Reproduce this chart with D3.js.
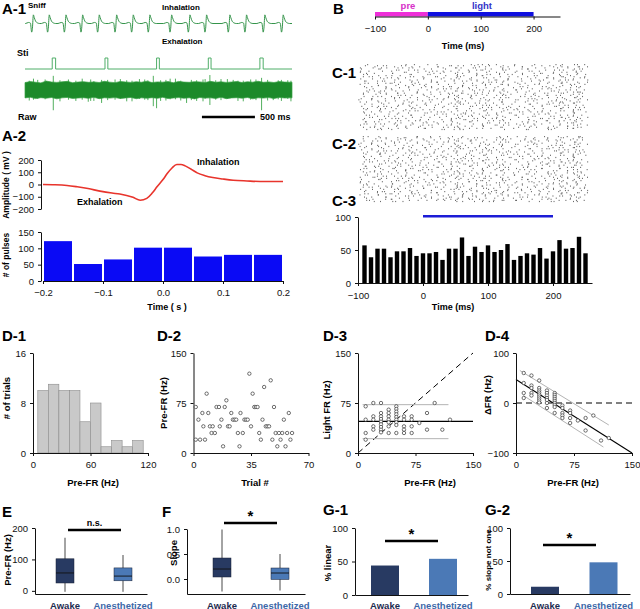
<!DOCTYPE html>
<html>
<head>
<meta charset="utf-8">
<script src="https://cdn.jsdelivr.net/npm/d3@7"></script>
<style>
  body { margin: 0; background: #fff; }
  svg text { font-family: "Liberation Sans", Arial, Helvetica, sans-serif; }
  .ax text { font-family: "Liberation Sans", Arial, sans-serif; font-size: 9.5px; fill: #111; }
  .ax path, .ax line { stroke: #111; }
  .plab { font-size: 15px; font-weight: bold; }
  .ttl { font-size: 9.5px; font-weight: bold; }
</style>
</head>
<body>
<svg id="fig" width="640" height="609"></svg>
<script>
// ---------- A-1 : sniff / stimulus / raw ----------
const sniffPeakMs = [79, 229, 387, 544, 701, 865, 1022, 1179, 1384, 1557, 1714, 1934, 2091, 2264, 2437];
const sniffShapeMs = [-75, -45, -28, -16, -9, 0, 8, 20, 40, 60];
const sniffShapeAmp = [0, 0.12, 0.05, -1, -0.55, 1, 0.7, 0.3, 0.06, 0];
const stiPulses = [[257, 289], [755, 782], [1242, 1268], [1730, 1756], [2217, 2248]];
// raw band envelope, one value per 50 ms (uV)
const rawHi = [92,104,96,88,110,99,94,101,107,90,98,103,95,100,93,108,97,91,105,99,94,102,96,109,92,100,97,104,90,106,98,95,103,100,93,107,96,101,94,99,105,92,102,97,108,95,100,93,104,98,96];
const rawLo = [-98,-90,-106,-95,-101,-93,-109,-97,-92,-104,-99,-95,-103,-91,-107,-96,-100,-94,-105,-98,-92,-108,-97,-101,-95,-103,-90,-106,-99,-94,-102,-96,-110,-93,-100,-97,-104,-91,-107,-98,-95,-101,-93,-109,-96,-100,-94,-105,-92,-99,-97];
const rawSpikeMs   = [120, 267, 410, 480, 597, 723, 850, 960, 1080, 1211, 1242, 1330, 1420, 1525, 1620, 1745, 1850, 1965, 2060, 2130, 2233, 2343, 2420, 2480,
                      40, 190, 330, 540, 650, 780, 900, 1010, 1130, 1280, 1370, 1470, 1570, 1680, 1800, 1910, 2010, 2180, 2290, 2390, 2510, 80, 620, 1160, 1700];
const rawSpikeUp   = [125, 175, 130, 115, 60, 125, 130, 120, 135, 175, 90, 125, 140, 70, 120, 185, 135, 125, 115, 130, 150, 60, 125, 120,
                      115, 130, 120, 140, 110, 125, 135, 115, 130, 120, 140, 115, 125, 130, 120, 135, 115, 130, 125, 120, 115, 140, 130, 120, 135];
const rawSpikeDown = [110, 250, 120, 135, 145, 160, 120, 140, 110, 200, 225, 130, 115, 160, 135, 185, 125, 80, 140, 120, 250, 125, 135, 110,
                      130, 115, 140, 120, 135, 125, 110, 140, 120, 135, 115, 130, 125, 140, 120, 110, 135, 125, 130, 115, 140, 120, 135, 125, 110];

// ---------- A-2 ----------
const avgT  = [-0.2, -0.18, -0.16, -0.143, -0.125, -0.105, -0.085, -0.072, -0.05, -0.038, -0.027, -0.018, -0.01, 0.0, 0.007, 0.015, 0.023, 0.03, 0.037, 0.047, 0.057, 0.07, 0.083, 0.1, 0.117, 0.14, 0.162, 0.2];
const avgMv = [0, -2, -8, -19, -33, -54, -70, -78, -105, -128, -113, -70, -19, 40, 89, 135, 163, 163, 152, 125, 95, 72, 57, 45, 35, 29, 25, 25];
const pulseBinStart = [-0.2, -0.15, -0.1, -0.05, 0.0, 0.05, 0.1, 0.15];
const pulseCounts   = [122, 52, 66, 102, 102, 75, 80, 80];

// ---------- B / C ----------
const bTicks = [-100, 0, 100, 200];
const psthMs = [-90,-80,-70,-60,-50,-40,-30,-20,-10,0,10,20,30,40,50,60,70,80,90,100,110,120,130,140,150,160,170,180,190,200,210,220,230,240,250];
const psthHz = [57,39,52,52,39,48,48,53,41,45,45,47,35,52,52,69,41,55,47,57,47,50,59,35,41,45,43,53,37,48,65,52,53,70,45];
const lightOn = [0, 200];

// ---------- D ----------
const d1Edges  = [5, 16, 27, 38, 49, 60, 71, 82, 93, 104, 115];
const d1Counts = [10, 11, 10, 10, 5, 8, 1, 2, 1, 2];
const d2Trial = [1.4,1.4,3,4,5.4,6,7,8,9,10,11,11.7,13,14,15.5,16,17,18,19,20,21,22,23,24,25,26,27,28,28.6,30,31,32,33,34,35,36,37,38,39,40,41,42,43,44,45,46,47,48,49,50,51,52,53,54,55,56,57,58,59,60];
const d2PreFR = [69,20,50,20,60,40,20,89,60,40,30,40,30,69,69,40,50,10,69,79,40,40,60,50,50,50,30,10,60,30,50,50,50,119,40,89,69,69,69,30,20,50,99,40,40,40,109,20,69,30,10,30,20,30,50,10,30,60,20,30];
const d3Pre   = [10,10,10,10, 20,20,20,20,20, 30,30,30,30,30,30,30,30,30, 40,40,40,40,40,40,40, 50,50,50,50,50,50,50,50,50, 60,60,60,60,60, 70,70,70,70, 80, 90,90, 100, 110, 120];
const d3Light = [70,50,30,20, 75,55,50,40,35, 75,60,55,51,47,43,39,35,31, 65,60,55,50,46,40,30, 70,66,62,58,54,50,46,42,30, 55,50,40,35,30, 55,50,40,30, 45, 60,35, 75, 35, 50];
const d3Fit   = [[0, 47.5], [150, 47.5]];
const d3Upper = [[6, 72.5], [118, 72.5]];
const d3Lower = [[6, 21.5], [118, 21.5]];
const d4Fit   = [[0, 47], [150, -100]];
const d4Upper = [[5, 65], [120, -44]];
const d4Lower = [[9.5, 15], [113, -88]];

// ---------- E / F / G ----------
const groups = ["Awake", "Anesthetized"];
const eMin = [-3, -3], eQ1 = [25, 32], eMed = [57, 47], eQ3 = [102, 73], eMax = [169, 114];
const fMin = [-0.25, -0.23], fQ1 = [0.04, -0.01], fMed = [0.2, 0.12], fQ3 = [0.42, 0.22], fMax = [0.99, 0.5];
const g1Pct = [44, 54];
const g2Pct = [11, 48];

const groupFill = ["#283a62", "#4b79b6"];
const groupText = ["#1d2b4f", "#3d68a8"];

// ================================================================
const svg = d3.select("#fig");

function text(x, y, s, cls, opts = {}) {
    const t = svg.append("text").attr("x", x).attr("y", y).attr("dominant-baseline", "central")
        .attr("text-anchor", opts.anchor || "start").text(s);
    if (cls) t.attr("class", cls);
    if (opts.size) t.style("font-size", opts.size + "px");
    if (opts.bold) t.style("font-weight", "bold");
    if (opts.fill) t.attr("fill", opts.fill);
    if (opts.rot) t.attr("transform", `rotate(-90,${x},${y})`);
    return t;
}

function yAxis(scale, x, ticks, fmt, pad = 4) {
    svg.append("g").attr("class", "ax").attr("transform", `translate(${x},0)`)
        .call(d3.axisLeft(scale).tickValues(ticks).tickFormat(fmt || d3.format("")).tickSize(3).tickSizeOuter(0).tickPadding(pad));
}
function xAxis(scale, y, ticks, fmt, pad = 4) {
    svg.append("g").attr("class", "ax").attr("transform", `translate(0,${y})`)
        .call(d3.axisBottom(scale).tickValues(ticks).tickFormat(fmt || d3.format("")).tickSize(3).tickSizeOuter(0).tickPadding(pad));
}

// ---------------- A-1 ----------------
text(2, 8, "A-1", "plab");
const tX = d3.scaleLinear().domain([0, 2520]).range([25, 292]);
const sniffY = d3.scaleLinear().domain([-1.1, 1.1]).range([33, 14]);
const sniffPts = [[0, 0]];
sniffPeakMs.forEach(p => sniffShapeMs.forEach((d, i) => sniffPts.push([p + d, sniffShapeAmp[i]])));
sniffPts.push([2520, 0]);
svg.append("path").datum(sniffPts)
    .attr("d", d3.line().x(d => tX(d[0])).y(d => sniffY(d[1])).curve(d3.curveMonotoneX))
    .attr("fill", "none").attr("stroke", "#34944a").attr("stroke-width", 1);

text(28, 5, "Sniff", null, {size: 8, bold: true});
text(162, 7, "Inhalation", null, {size: 8, bold: true});
text(162, 41, "Exhalation", null, {size: 8, bold: true});
text(17, 53, "Sti", null, {size: 9, bold: true});
text(18, 117, "Raw", null, {size: 9, bold: true});

const stiY = d3.scaleLinear().domain([0, 1]).range([69, 58]);
const stiPts = [[0, 0]];
stiPulses.forEach(p => { stiPts.push([p[0], 0], [p[0], 1], [p[1], 1], [p[1], 0]); });
stiPts.push([2520, 0]);
svg.append("path").datum(stiPts)
    .attr("d", d3.line().x(d => tX(d[0])).y(d => stiY(d[1])))
    .attr("fill", "none").attr("stroke", "#4fae68").attr("stroke-width", 1);

const rawY = d3.scaleLinear().domain([-210, 210]).range([107, 73]);
const rawT = rawHi.map((_, i) => Math.min(i * 50, 2520));
const rawBand = rawT.map((t, i) => ({t, hi: rawHi[i], lo: rawLo[i]}));
rawBand.push({t: 2520, hi: rawHi[rawHi.length - 1], lo: rawLo[rawLo.length - 1]});
svg.append("g").selectAll("line").data(rawSpikeMs).join("line")
    .attr("x1", d => tX(d)).attr("x2", d => tX(d))
    .attr("y1", (d, i) => rawY(rawSpikeUp[i])).attr("y2", (d, i) => rawY(-rawSpikeDown[i]))
    .attr("stroke", "#3ea64c").attr("stroke-width", 0.9);
svg.append("path").datum(rawBand)
    .attr("d", d3.area().x(d => tX(d.t)).y0(d => rawY(d.lo)).y1(d => rawY(d.hi)))
    .attr("fill", "#1c8a2a").attr("stroke", "#36a044").attr("stroke-width", 0.7);

// scale bar 500 ms
svg.append("line").attr("x1", tX(1670)).attr("x2", tX(2170)).attr("y1", 117).attr("y2", 117)
    .attr("stroke", "#000").attr("stroke-width", 2.5);
text(tX(2170) + 5, 117, "500 ms", null, {size: 9, bold: true});

// ---------------- A-2 ----------------
text(2, 135, "A-2", "plab");
const aX = d3.scaleLinear().domain([-0.2, 0.2]).range([43, 283]);
const aY = d3.scaleLinear().domain([-200, 200]).range([209, 160]);
yAxis(aY, 41, [-200, -100, 0, 100, 200]);
svg.append("path").datum(avgT.map((t, i) => [t, avgMv[i]]))
    .attr("d", d3.line().x(d => aX(d[0])).y(d => aY(d[1])).curve(d3.curveMonotoneX))
    .attr("fill", "none").attr("stroke", "#e8342c").attr("stroke-width", 1.6);
text(197, 162, "Inhalation", null, {size: 9, bold: true});
text(77, 202, "Exhalation", null, {size: 9, bold: true});
text(6, 185, "Amplitude ( mV )", "ttl", {anchor: "middle", rot: true, size: 8.5});

const pY = d3.scaleLinear().domain([0, 150]).range([281, 232]);
svg.append("g").selectAll("rect").data(pulseCounts).join("rect")
    .attr("x", (d, i) => aX(pulseBinStart[i]) + 1)
    .attr("width", (d, i) => aX(pulseBinStart[i] + 0.05) - aX(pulseBinStart[i]) - 2)
    .attr("y", d => pY(d)).attr("height", d => pY(0) - pY(d))
    .attr("fill", "#0a0af5");
yAxis(pY, 41, [0, 50, 100, 150]);
xAxis(aX, 281, [-0.2, -0.1, 0, 0.1, 0.2], d3.format(".1f"), 5);
text(6, 255, "# of pulses", "ttl", {anchor: "middle", rot: true, size: 8.5});
text(167, 307, "Time ( s )", "ttl", {anchor: "middle", size: 9});

// ---------------- B ----------------
text(333, 8, "B", "plab");
const bX = d3.scaleLinear().domain([-100, 250]).range([375, 560]);
svg.append("rect").attr("x", bX(-100)).attr("width", bX(0) - bX(-100)).attr("y", 12).attr("height", 4.5).attr("fill", "#ee2fd8");
svg.append("rect").attr("x", bX(lightOn[0])).attr("width", bX(lightOn[1]) - bX(lightOn[0])).attr("y", 12).attr("height", 4.5).attr("fill", "#1010e0");
xAxis(bX, 16.5, bTicks, null, 6);
text(408, 5, "pre", null, {size: 9.5, bold: true, fill: "#d630c8", anchor: "middle"});
text(482, 5, "light", null, {size: 9.5, bold: true, fill: "#3434c8", anchor: "middle"});
text(463, 46, "Time (ms)", "ttl", {anchor: "middle", size: 9});

// ---------------- C-1 / C-2 rasters ----------------
const cX = d3.scaleLinear().domain([-100, 260]).range([358, 592]);
const nTrials = 60;
// raster texture laid out from the PSTH counts of each 10 ms bin
function rasterDots(seed) {
    const dots = [];
    psthMs.forEach((t, b) => {
        const n = Math.round(psthHz[b] * nTrials * 0.01);
        for (let k = 0; k < n; k++) {
            const u = (k * 0.6180339 + b * 0.4142136 + seed) % 1;
            const v = (k * k * 0.3774389 + k * 0.1234 + b * 0.5698403 + seed * 1.7) % 1;
            dots.push({t: t - 10 + v * 13, trial: Math.floor(u * nTrials)});
        }
    });
    return dots;
}
function raster(top, bottom, seed) {
    const rY = d3.scaleLinear().domain([0, nTrials]).range([top, bottom]);
    svg.append("g").selectAll("rect").data(rasterDots(seed)).join("rect")
        .attr("x", d => cX(d.t)).attr("y", d => rY(d.trial))
        .attr("width", 0.9).attr("height", 1.2).attr("fill", "#5a5a5a");
}
text(332, 72, "C-1", "plab");
raster(64, 130, 0.13);
text(332, 143, "C-2", "plab");
raster(136, 202, 0.71);

// ---------------- C-3 PSTH ----------------
text(332, 200, "C-3", "plab");
const cY = d3.scaleLinear().domain([0, 100]).range([283, 217]);
svg.append("g").selectAll("rect").data(psthHz).join("rect")
    .attr("x", (d, i) => cX(psthMs[i]) - 2.2).attr("width", 4.4)
    .attr("y", d => cY(d)).attr("height", d => cY(0) - cY(d))
    .attr("fill", "#000");
svg.append("line").attr("x1", cX(lightOn[0])).attr("x2", cX(lightOn[1]))
    .attr("y1", cY(101)).attr("y2", cY(101)).attr("stroke", "#1c1cd6").attr("stroke-width", 2.5);
yAxis(cY, 358, [0, 50, 100]);
xAxis(cX, 283, bTicks, null, 6);
text(453, 307, "Time (ms)", "ttl", {anchor: "middle", size: 9});

// ---------------- D panels ----------------
const dTop = 353, dBot = 453;
const circ = (sel) => sel.attr("r", 1.7).attr("fill", "#fff").attr("stroke", "#333").attr("stroke-width", 0.7);

// D-1
text(2, 335, "D-1", "plab");
const d1X = d3.scaleLinear().domain([0, 120]).range([33, 148]);
const d1Y = d3.scaleLinear().domain([0, 16]).range([dBot, dTop]);
svg.append("g").selectAll("rect").data(d1Counts).join("rect")
    .attr("x", (d, i) => d1X(d1Edges[i])).attr("width", (d, i) => d1X(d1Edges[i + 1]) - d1X(d1Edges[i]))
    .attr("y", d => d1Y(d)).attr("height", d => d1Y(0) - d1Y(d))
    .attr("fill", "#c9c9c9").attr("stroke", "#8c8c8c").attr("stroke-width", 0.6);
yAxis(d1Y, 33, [0, 8, 16]);
xAxis(d1X, dBot, [0, 60, 120], null, 5);
text(6, 398, "# of trials", "ttl", {anchor: "middle", rot: true});
text(93, 482, "Pre-FR (Hz)", "ttl", {anchor: "middle"});

// D-2
text(157, 335, "D-2", "plab");
const d2X = d3.scaleLinear().domain([0, 70]).range([193.5, 308.5]);
const d2Y = d3.scaleLinear().domain([0, 150]).range([dBot, dTop]);
yAxis(d2Y, 193.5, [0, 75, 150]);
xAxis(d2X, dBot, [0, 35, 70], null, 5);
svg.append("g").selectAll("circle").data(d2Trial).join("circle")
    .attr("cx", d => d2X(d)).attr("cy", (d, i) => d2Y(d2PreFR[i])).call(circ);
text(163, 403, "Pre-FR (Hz)", "ttl", {anchor: "middle", rot: true});
text(255, 482, "Trial #", "ttl", {anchor: "middle"});

// D-3
text(323, 335, "D-3", "plab");
const d3X = d3.scaleLinear().domain([0, 150]).range([358, 473]);
const d3Y = d3.scaleLinear().domain([0, 150]).range([dBot, dTop]);
const d3Line = d3.line().x(d => d3X(d[0])).y(d => d3Y(d[1]));
svg.append("path").attr("d", d3Line([[0, 0], [150, 150]])).attr("stroke", "#000").attr("stroke-width", 1).attr("stroke-dasharray", "6,4").attr("fill", "none");
svg.append("path").attr("d", d3Line(d3Upper)).attr("stroke", "#b4b4b4").attr("stroke-width", 1);
svg.append("path").attr("d", d3Line(d3Lower)).attr("stroke", "#b4b4b4").attr("stroke-width", 1);
svg.append("path").attr("d", d3Line(d3Fit)).attr("stroke", "#000").attr("stroke-width", 1.1);
svg.append("g").selectAll("circle").data(d3Pre).join("circle")
    .attr("cx", d => d3X(d)).attr("cy", (d, i) => d3Y(d3Light[i])).call(circ);
yAxis(d3Y, 358, [0, 75, 150]);
xAxis(d3X, dBot, [0, 75, 150], null, 5);
text(326, 410, "Light FR (Hz)", "ttl", {anchor: "middle", rot: true});
text(430, 482, "Pre-FR (Hz)", "ttl", {anchor: "middle"});

// D-4
text(485, 335, "D-4", "plab");
const d4X = d3.scaleLinear().domain([0, 150]).range([516, 632]);
const d4Y = d3.scaleLinear().domain([-100, 100]).range([dBot, dTop]);
const d4Line = d3.line().x(d => d4X(d[0])).y(d => d4Y(d[1]));
svg.append("path").attr("d", d4Line([[0, 0], [150, 0]])).attr("stroke", "#000").attr("stroke-width", 1).attr("stroke-dasharray", "6,4").attr("fill", "none");
svg.append("path").attr("d", d4Line(d4Upper)).attr("stroke", "#b4b4b4").attr("stroke-width", 1);
svg.append("path").attr("d", d4Line(d4Lower)).attr("stroke", "#b4b4b4").attr("stroke-width", 1);
svg.append("path").attr("d", d4Line(d4Fit)).attr("stroke", "#000").attr("stroke-width", 1.1);
svg.append("g").selectAll("circle").data(d3Pre).join("circle")
    .attr("cx", d => d4X(d)).attr("cy", (d, i) => d4Y(d3Light[i] - d)).call(circ);
yAxis(d4Y, 516, [-100, 0, 100]);
xAxis(d4X, dBot, [0, 75, 150], null, 5);
text(487, 395, "\u0394FR (Hz)", "ttl", {anchor: "middle", rot: true});
text(573, 482, "Pre-FR (Hz)", "ttl", {anchor: "middle"});

// ---------------- E / F box plots ----------------
function sigBar(x1, x2, y, label, ly, size) {
    svg.append("line").attr("x1", x1).attr("x2", x2).attr("y1", y).attr("y2", y).attr("stroke", "#000").attr("stroke-width", 2.5);
    text((x1 + x2) / 2, ly, label, null, {anchor: "middle", size: size, bold: true});
}
function groupLabels(xs, y) {
    groups.forEach((g, i) => text(xs(g), y, g, null, {anchor: "middle", size: 9.5, bold: true, fill: groupText[i]}));
}
function boxPlot(xs, ys, mn, q1, md, q3, mx, w) {
    const g = svg.append("g");
    groups.forEach((k, i) => {
        const cx = xs(k);
        g.append("line").attr("x1", cx).attr("x2", cx).attr("y1", ys(mn[i])).attr("y2", ys(mx[i])).attr("stroke", "#333").attr("stroke-width", 0.9);
        g.append("rect").attr("x", cx - w / 2).attr("width", w).attr("y", ys(q3[i])).attr("height", ys(q1[i]) - ys(q3[i]))
            .attr("fill", groupFill[i]).attr("stroke", "#1a2235").attr("stroke-width", 0.5);
        g.append("line").attr("x1", cx - w / 2).attr("x2", cx + w / 2).attr("y1", ys(md[i])).attr("y2", ys(md[i])).attr("stroke", "#111").attr("stroke-width", 0.9);
    });
}

text(2, 511, "E", "plab");
const eX = d3.scalePoint().domain(groups).range([65, 123]);
const eY = d3.scaleLinear().domain([-10, 200]).range([594, 528]);
const eFrame = d3.scaleLinear().range([35, 147]);
boxPlot(eX, eY, eMin, eQ1, eMed, eQ3, eMax, 18);
yAxis(eY, 35, [0, 100, 200]);
svg.append("g").attr("class", "ax").attr("transform", `translate(0,${eY(-10)})`).call(d3.axisBottom(eFrame).tickValues([]).tickSizeOuter(0));
sigBar(68, 121, 530, "n.s.", 523, 9);
groupLabels(eX, 605);
text(7, 560, "Pre-FR (Hz)", "ttl", {anchor: "middle", rot: true});

text(162, 511, "F", "plab");
const fX = d3.scalePoint().domain(groups).range([222, 280]);
const fY = d3.scaleLinear().domain([-0.3, 1.0]).range([594, 529]);
const fFrame = d3.scaleLinear().range([187, 305]);
boxPlot(fX, fY, fMin, fQ1, fMed, fQ3, fMax, 18);
yAxis(fY, 187, [0, 0.5, 1.0], d3.format(".1f"));
svg.append("g").attr("class", "ax").attr("transform", `translate(0,${fY(-0.3)})`).call(d3.axisBottom(fFrame).tickValues([]).tickSizeOuter(0));
sigBar(224, 277, 523, "*", 515, 15);
groupLabels(fX, 605);
text(173, 553, "Slope", "ttl", {anchor: "middle", rot: true});

// ---------------- G bar charts ----------------
function pctBars(xs, ys, vals, x0, x1) {
    svg.append("g").selectAll("rect").data(vals).join("rect")
        .attr("x", (d, i) => xs(groups[i]) - 14).attr("width", 28)
        .attr("y", d => ys(d)).attr("height", d => ys(0) - ys(d))
        .attr("fill", (d, i) => groupFill[i]);
    yAxis(ys, x0, [0, 50, 100]);
    svg.append("g").attr("class", "ax").attr("transform", `translate(0,${ys(0)})`)
        .call(d3.axisBottom(d3.scaleLinear().range([x0, x1])).tickValues([]).tickSizeOuter(0));
}

text(323, 509, "G-1", "plab");
const g1X = d3.scalePoint().domain(groups).range([385, 443]);
const g1Y = d3.scaleLinear().domain([0, 100]).range([595, 528]);
pctBars(g1X, g1Y, g1Pct, 355, 468);
sigBar(385, 438, 541, "*", 533, 15);
groupLabels(g1X, 605);
text(327, 563, "% linear", "ttl", {anchor: "middle", rot: true});

text(485, 509, "G-2", "plab");
const g2X = d3.scalePoint().domain(groups).range([545, 603.5]);
const g2Y = d3.scaleLinear().domain([0, 100]).range([594, 528]);
pctBars(g2X, g2Y, g2Pct, 510, 630);
sigBar(543, 596, 545, "*", 537, 15);
groupLabels(g2X, 605);
text(488, 560, "% slope not one", "ttl", {anchor: "middle", rot: true, size: 8});
</script>
</body>
</html>
